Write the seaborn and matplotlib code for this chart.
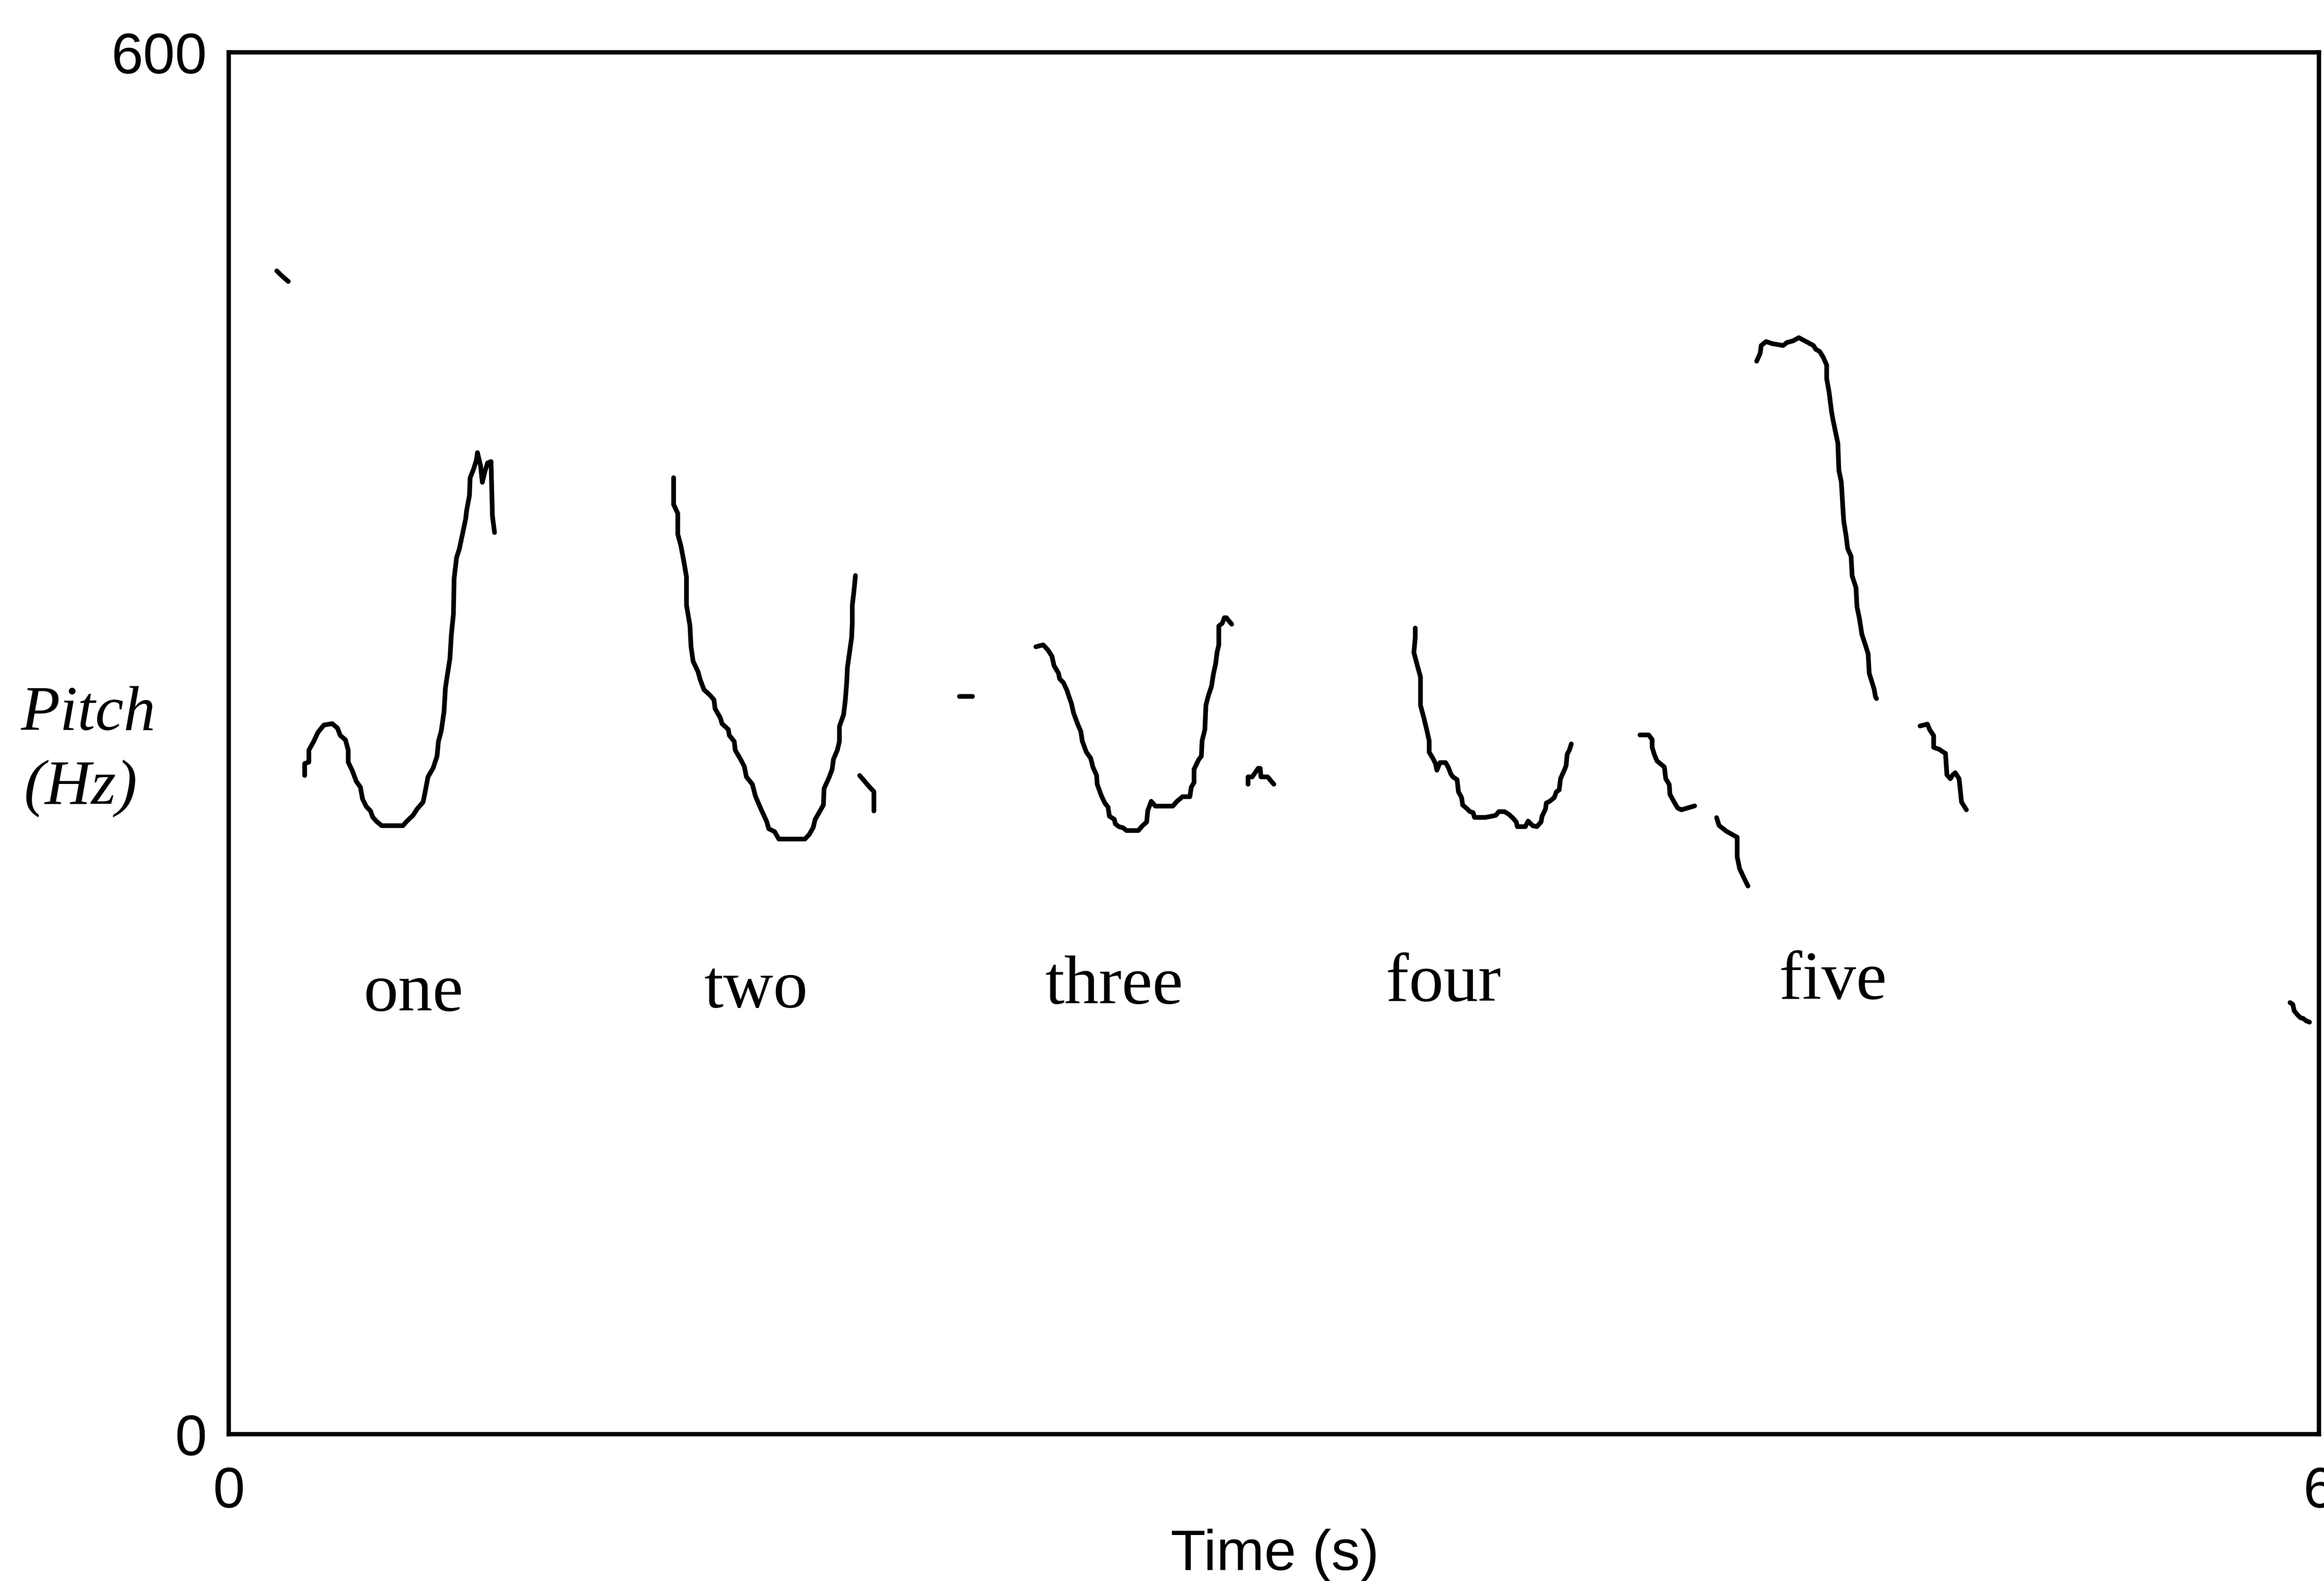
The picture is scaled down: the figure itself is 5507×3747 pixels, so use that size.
import matplotlib
matplotlib.use("Agg")
import matplotlib.pyplot as plt
import seaborn as sns
import pandas as pd

# ---------------- data (time in s, pitch in Hz) ----------------
blip0_t = [0.138, 0.152, 0.171]
blip0_f = [505.1, 503.0, 500.5]

one_t = [0.218, 0.218, 0.230, 0.230, 0.244, 0.256, 0.273, 0.297, 0.312, 0.320,
         0.335, 0.343, 0.343, 0.355, 0.366, 0.378, 0.384, 0.395, 0.407, 0.413,
         0.424, 0.439, 0.471, 0.500, 0.511, 0.529, 0.540, 0.558, 0.564, 0.572,
         0.587, 0.598, 0.602, 0.610, 0.618, 0.622, 0.627, 0.635, 0.639, 0.645,
         0.647, 0.654, 0.662, 0.671, 0.680, 0.683, 0.691, 0.693, 0.703, 0.711,
         0.714, 0.723, 0.728, 0.735, 0.743, 0.753, 0.755, 0.757, 0.763]
one_f = [286.0, 291.2, 291.8, 297.0, 300.8, 304.7, 307.9, 308.5, 306.6, 303.4,
         301.5, 297.0, 291.8, 288.0, 283.5, 280.9, 275.8, 272.5, 270.6, 268.0,
         266.1, 264.2, 264.2, 264.2, 266.1, 268.7, 271.3, 274.5, 279.0, 285.4,
         289.3, 294.4, 300.8, 305.3, 313.7, 324.0, 329.1, 336.8, 347.1, 356.1,
         371.6, 380.6, 384.4, 390.8, 397.3, 401.1, 407.6, 415.3, 419.1, 423.0,
         426.2, 420.4, 413.3, 417.8, 421.7, 422.3, 410.1, 398.6, 391.5]

two_t = [1.277, 1.277, 1.289, 1.289, 1.298, 1.306, 1.314, 1.314, 1.324, 1.327,
         1.333, 1.347, 1.353, 1.364, 1.382, 1.393, 1.396, 1.411, 1.416, 1.434,
         1.437, 1.451, 1.454, 1.469, 1.480, 1.486, 1.503, 1.512, 1.521, 1.532,
         1.544, 1.550, 1.567, 1.579, 1.614, 1.654, 1.666, 1.678, 1.683, 1.695,
         1.707, 1.709, 1.724, 1.732, 1.736, 1.747, 1.753, 1.753, 1.765, 1.770,
         1.774, 1.776, 1.782, 1.788, 1.790, 1.790, 1.794, 1.799]
two_f = [415.3, 403.7, 399.8, 390.8, 385.7, 379.3, 372.2, 360.0, 351.0, 342.0,
         335.6, 331.1, 327.8, 323.3, 320.8, 318.8, 315.0, 311.1, 308.5, 306.0,
         303.4, 300.8, 297.0, 293.1, 289.9, 285.4, 282.2, 277.0, 273.8, 270.0,
         266.1, 262.9, 261.6, 258.4, 258.4, 258.4, 260.3, 263.5, 266.8, 270.0,
         273.2, 280.3, 285.4, 288.6, 293.1, 297.0, 300.8, 307.3, 312.4, 318.8,
         326.6, 333.0, 339.4, 345.8, 352.3, 360.0, 365.1, 372.8]

tail2_t = [1.811, 1.840, 1.852, 1.852]
tail2_f = [286.0, 280.9, 279.0, 270.6]

dash_t = [2.097, 2.134]
dash_f = [320.4, 320.4]

three_t = [2.317, 2.338, 2.351, 2.363, 2.369, 2.382, 2.385, 2.396, 2.406, 2.413,
           2.419, 2.425, 2.437, 2.446, 2.450, 2.458, 2.462, 2.474, 2.481, 2.491,
           2.493, 2.499, 2.505, 2.515, 2.524, 2.528, 2.542, 2.545, 2.555, 2.567,
           2.577, 2.611, 2.623, 2.635, 2.638, 2.648, 2.660, 2.710, 2.722, 2.738,
           2.759, 2.763, 2.771, 2.771, 2.784, 2.792, 2.794, 2.802, 2.805, 2.812,
           2.821, 2.827, 2.833, 2.837, 2.842, 2.842, 2.852, 2.858, 2.864, 2.870,
           2.879]
three_f = [341.9, 342.7, 340.6, 337.8, 333.7, 330.4, 328.0, 326.3, 323.0, 319.8,
           317.3, 313.2, 308.3, 305.1, 301.0, 297.7, 296.1, 293.6, 289.5, 286.2,
           282.2, 279.7, 277.2, 274.0, 272.3, 268.3, 267.0, 265.0, 263.8, 263.3,
           262.1, 262.1, 264.2, 265.8, 270.7, 274.8, 272.7, 272.7, 274.8, 276.8,
           276.8, 280.9, 283.0, 288.7, 292.8, 294.4, 301.0, 305.9, 316.5, 320.6,
           324.7, 330.4, 334.5, 339.4, 342.7, 350.9, 352.1, 354.5, 354.5, 353.3,
           351.7]

blip3_t = [2.926, 2.926, 2.938, 2.955, 2.961, 2.963, 2.982, 3.000]
blip3_f = [282.2, 285.4, 285.4, 289.1, 289.1, 285.4, 285.4, 282.2]

four_t = [3.406, 3.406, 3.402, 3.412, 3.421, 3.421, 3.431, 3.440, 3.446, 3.446,
          3.456, 3.464, 3.468, 3.477, 3.493, 3.501, 3.508, 3.514, 3.526, 3.530,
          3.539, 3.542, 3.555, 3.563, 3.572, 3.576, 3.607, 3.625, 3.637, 3.646,
          3.662, 3.675, 3.687, 3.696, 3.699, 3.722, 3.730, 3.743, 3.755, 3.767,
          3.770, 3.780, 3.782, 3.792, 3.805, 3.811, 3.819, 3.823, 3.829, 3.835,
          3.839, 3.842, 3.848, 3.854]
four_f = [350.0, 346.0, 339.4, 333.7, 328.8, 316.5, 310.8, 305.1, 301.0, 296.1,
          293.6, 291.2, 288.3, 291.6, 291.6, 289.5, 286.7, 285.4, 284.2, 278.9,
          276.4, 273.2, 271.5, 270.3, 269.9, 267.8, 267.8, 268.3, 268.7, 270.3,
          270.3, 269.1, 267.4, 265.8, 263.8, 263.8, 266.2, 264.2, 263.8, 265.8,
          268.3, 271.5, 274.0, 274.8, 276.4, 278.9, 279.7, 284.6, 286.7, 288.7,
          290.3, 295.2, 296.9, 299.7]

segA_t = [4.051, 4.076, 4.086, 4.086, 4.093, 4.100, 4.121, 4.125, 4.135, 4.137,
          4.149, 4.159, 4.170, 4.208]
segA_f = [303.6, 303.6, 301.6, 298.2, 294.8, 292.3, 289.7, 284.6, 282.1, 277.8,
          274.5, 271.9, 271.1, 272.8]

segB_t = [4.271, 4.278, 4.299, 4.319, 4.330, 4.330, 4.337, 4.347, 4.361]
segB_f = [267.7, 264.3, 261.8, 260.1, 259.2, 250.7, 245.6, 242.3, 238.0]

five_t = [4.386, 4.396, 4.399, 4.413, 4.431, 4.462, 4.473, 4.490, 4.507, 4.528,
          4.549, 4.556, 4.567, 4.577, 4.587, 4.587, 4.594, 4.601, 4.605, 4.612,
          4.619, 4.622, 4.629, 4.633, 4.636, 4.643, 4.647, 4.657, 4.660, 4.671,
          4.674, 4.681, 4.688, 4.699, 4.706, 4.709, 4.716, 4.723, 4.727, 4.730]
five_f = [465.9, 469.3, 472.7, 474.4, 473.5, 472.7, 474.0, 474.7, 476.1, 474.4,
          472.7, 471.0, 470.1, 467.6, 464.2, 458.3, 452.3, 443.9, 440.5, 435.4,
          430.3, 418.5, 413.4, 403.2, 396.4, 389.7, 384.6, 381.2, 372.7, 367.6,
          359.2, 354.1, 347.3, 342.2, 338.8, 330.4, 327.0, 323.6, 320.2, 319.4]

segD_t = [4.855, 4.876, 4.883, 4.894, 4.894, 4.911, 4.918, 4.928, 4.932, 4.942,
          4.949, 4.956, 4.967, 4.970, 4.974, 4.981, 4.988]
segD_f = [307.5, 308.3, 305.8, 303.3, 298.2, 297.3, 296.5, 295.6, 286.3, 284.6,
          286.3, 287.2, 284.6, 280.4, 274.5, 272.8, 271.1]

blipEnd_t = [5.917, 5.925, 5.929, 5.939, 5.947, 5.955, 5.963, 5.973]
blipEnd_f = [187.4, 186.6, 183.8, 182.0, 180.8, 180.5, 179.5, 178.9]

words = ["one", "two", "three", "four", "five"]
word_t = [0.531, 1.513, 2.542, 3.487, 4.605]
word_f = [184.1, 185.6, 187.2, 188.3, 189.2]

x_ticks = [0, 6]
y_ticks = [0, 600]

# ---------------- build long table ----------------
segments = {
    "blip0": (blip0_t, blip0_f), "one": (one_t, one_f), "two": (two_t, two_f),
    "tail2": (tail2_t, tail2_f), "dash": (dash_t, dash_f),
    "three": (three_t, three_f), "blip3": (blip3_t, blip3_f),
    "four": (four_t, four_f), "segA": (segA_t, segA_f), "segB": (segB_t, segB_f),
    "five": (five_t, five_f), "segD": (segD_t, segD_f),
    "blipEnd": (blipEnd_t, blipEnd_f),
}
rows = []
for name, (ts, fs) in segments.items():
    n = min(len(ts), len(fs))
    for i in range(n):
        rows.append({"seg": name, "order": i, "t": ts[i], "f": fs[i]})
df = pd.DataFrame(rows)

# ---------------- figure ----------------
sns.set_style("white")
plt.rcParams["font.family"] = ["Liberation Sans", "DejaVu Sans"]
plt.rcParams["text.color"] = "black"
plt.rcParams["axes.labelcolor"] = "black"
plt.rcParams["xtick.color"] = "black"
plt.rcParams["ytick.color"] = "black"

W, H, DPI = 5507, 3748, 100
fig = plt.figure(figsize=(W / DPI, H / DPI), dpi=DPI)
fig.patch.set_facecolor("white")
ax_left, ax_right = 542 / W, 5495 / W
ax_bottom, ax_top = 1 - 3400 / H, 1 - 125 / H
ax = fig.add_axes([ax_left, ax_bottom, ax_right - ax_left, ax_top - ax_bottom])

sns.lineplot(data=df, x="t", y="f", units="seg", estimator=None, sort=False,
             color="black", linewidth=8.0, ax=ax, legend=False)

ax.set_xlim(0, 6)
ax.set_ylim(0, 600)
ax.set_xticks(x_ticks)
ax.set_yticks(y_ticks)
ax.set_xticklabels([str(v) for v in x_ticks])
ax.set_yticklabels([str(v) for v in y_ticks])
ax.tick_params(axis="both", direction="out", length=32, width=7, labelsize=98,
               color="black", labelcolor="black")
ax.tick_params(axis="x", pad=22)
ax.tick_params(axis="y", pad=5)

for sp in ax.spines.values():
    sp.set_visible(True)
    sp.set_color("black")
    sp.set_linewidth(7.5)

ax.set_xlabel("Time (s)", fontsize=98, color="black")
ax.xaxis.set_label_coords(0.5005, -0.098)
ax.xaxis.label.set_va("baseline")
ax.set_ylabel("")

# y label, two italic serif lines
serif = ["Liberation Serif", "DejaVu Serif"]
ax.text(-0.0993, (3400 - 1730) / 3275, "Pitch", transform=ax.transAxes,
        fontsize=109, fontstyle="italic", family=serif, ha="left",
        va="baseline", color="black")
ax.text(-0.0979, (3400 - 1905) / 3275, "(Hz)", transform=ax.transAxes,
        fontsize=109, fontstyle="italic", family=serif, ha="left",
        va="baseline", color="black")

# word annotations
for w, xt, yf in zip(words, word_t, word_f):
    ax.text(xt, yf, w, fontsize=118, family=serif, ha="center",
            va="baseline", color="black")

fig.savefig("out.png", dpi=DPI, facecolor="white")
